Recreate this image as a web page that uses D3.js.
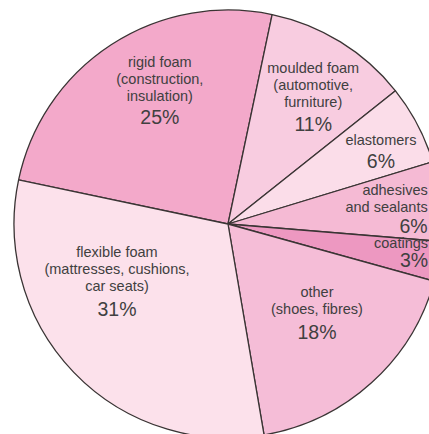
<!DOCTYPE html>
<html><head><meta charset="utf-8">
<script src="https://cdn.jsdelivr.net/npm/d3@7"></script>
<style>
html,body{margin:0;padding:0;background:#fff;overflow:hidden;}
svg{display:block;}
</style></head>
<body>
<script>
// Data
const categories = ["rigid foam","moulded foam","elastomers","adhesives and sealants","coatings","other","flexible foam"];
const labelLines = [
  ["rigid foam","(construction,","insulation)"],
  ["moulded foam","(automotive,","furniture)"],
  ["elastomers"],
  ["adhesives","and sealants"],
  ["coatings"],
  ["other","(shoes, fibres)"],
  ["flexible foam","(mattresses, cushions,","car seats)"]
];
const shares = [25, 11, 6, 6, 3, 18, 31];
const colors = ["#f3a9ca","#f8cce0","#fbdde9","#f5bad4","#ed98c1","#f5bdd7","#fce1eb"];

// Layout (label placement relative to each slice's mid angle)
const labelLayout = [
  {da:10.3, r:176, anchor:"middle", pctGap:21},
  {da:-3.1, r:178, anchor:"middle", pctGap:22},
  {da:-1.1, r:174.5, anchor:"middle", pctGap:21},
  {da:-3.6, r:202.6, anchor:"end", pctGap:19},
  {da:-4.6, r:201, anchor:"end", pctGap:17},
  {da:-10.5, r:112, anchor:"middle", pctGap:23},
  {da:29.7, r:114.5, anchor:"middle", pctGap:23}
];

const W = 429, H = 434, cx = 228, cy = 224, R = 214;
const svg = d3.select("body").append("svg").attr("width", W).attr("height", H);
const g = svg.append("g").attr("transform", `translate(${cx},${cy})`);

const start = -78.1 * Math.PI / 180;
const pie = d3.pie().sort(null).value(d => d).startAngle(start).endAngle(start + 2 * Math.PI);
const arcs = pie(shares);
const arc = d3.arc().innerRadius(0).outerRadius(R);

g.selectAll("path.slice").data(arcs).enter().append("path")
  .attr("class","slice")
  .attr("d", arc)
  .attr("fill", (d,i) => colors[i])
  .attr("stroke", "#3a3434")
  .attr("stroke-width", 1.3)
  .attr("stroke-linejoin","round");

const fontFam = "'Liberation Sans', Arial, Helvetica, sans-serif";
arcs.forEach((d, i) => {
  const L = labelLayout[i];
  const mid = (d.startAngle + d.endAngle) / 2 + L.da * Math.PI / 180;
  const x = L.r * Math.sin(mid), y = -L.r * Math.cos(mid);
  const t = g.append("g").attr("transform", `translate(${x},${y})`);
  const lines = labelLines[i];
  lines.forEach((s, k) => {
    t.append("text").attr("x", 0).attr("y", k * 17 + 5)
      .attr("text-anchor", L.anchor)
      .attr("font-family", fontFam).attr("font-size", 14.5)
      .attr("fill", "#404040").text(s);
  });
  t.append("text").attr("x", 0).attr("y", (lines.length - 1) * 17 + L.pctGap + 7)
    .attr("text-anchor", L.anchor)
    .attr("font-family", fontFam).attr("font-size", 19.5)
    .attr("fill", "#404040").text(shares[i] + "%");
});
</script>
</body></html>
